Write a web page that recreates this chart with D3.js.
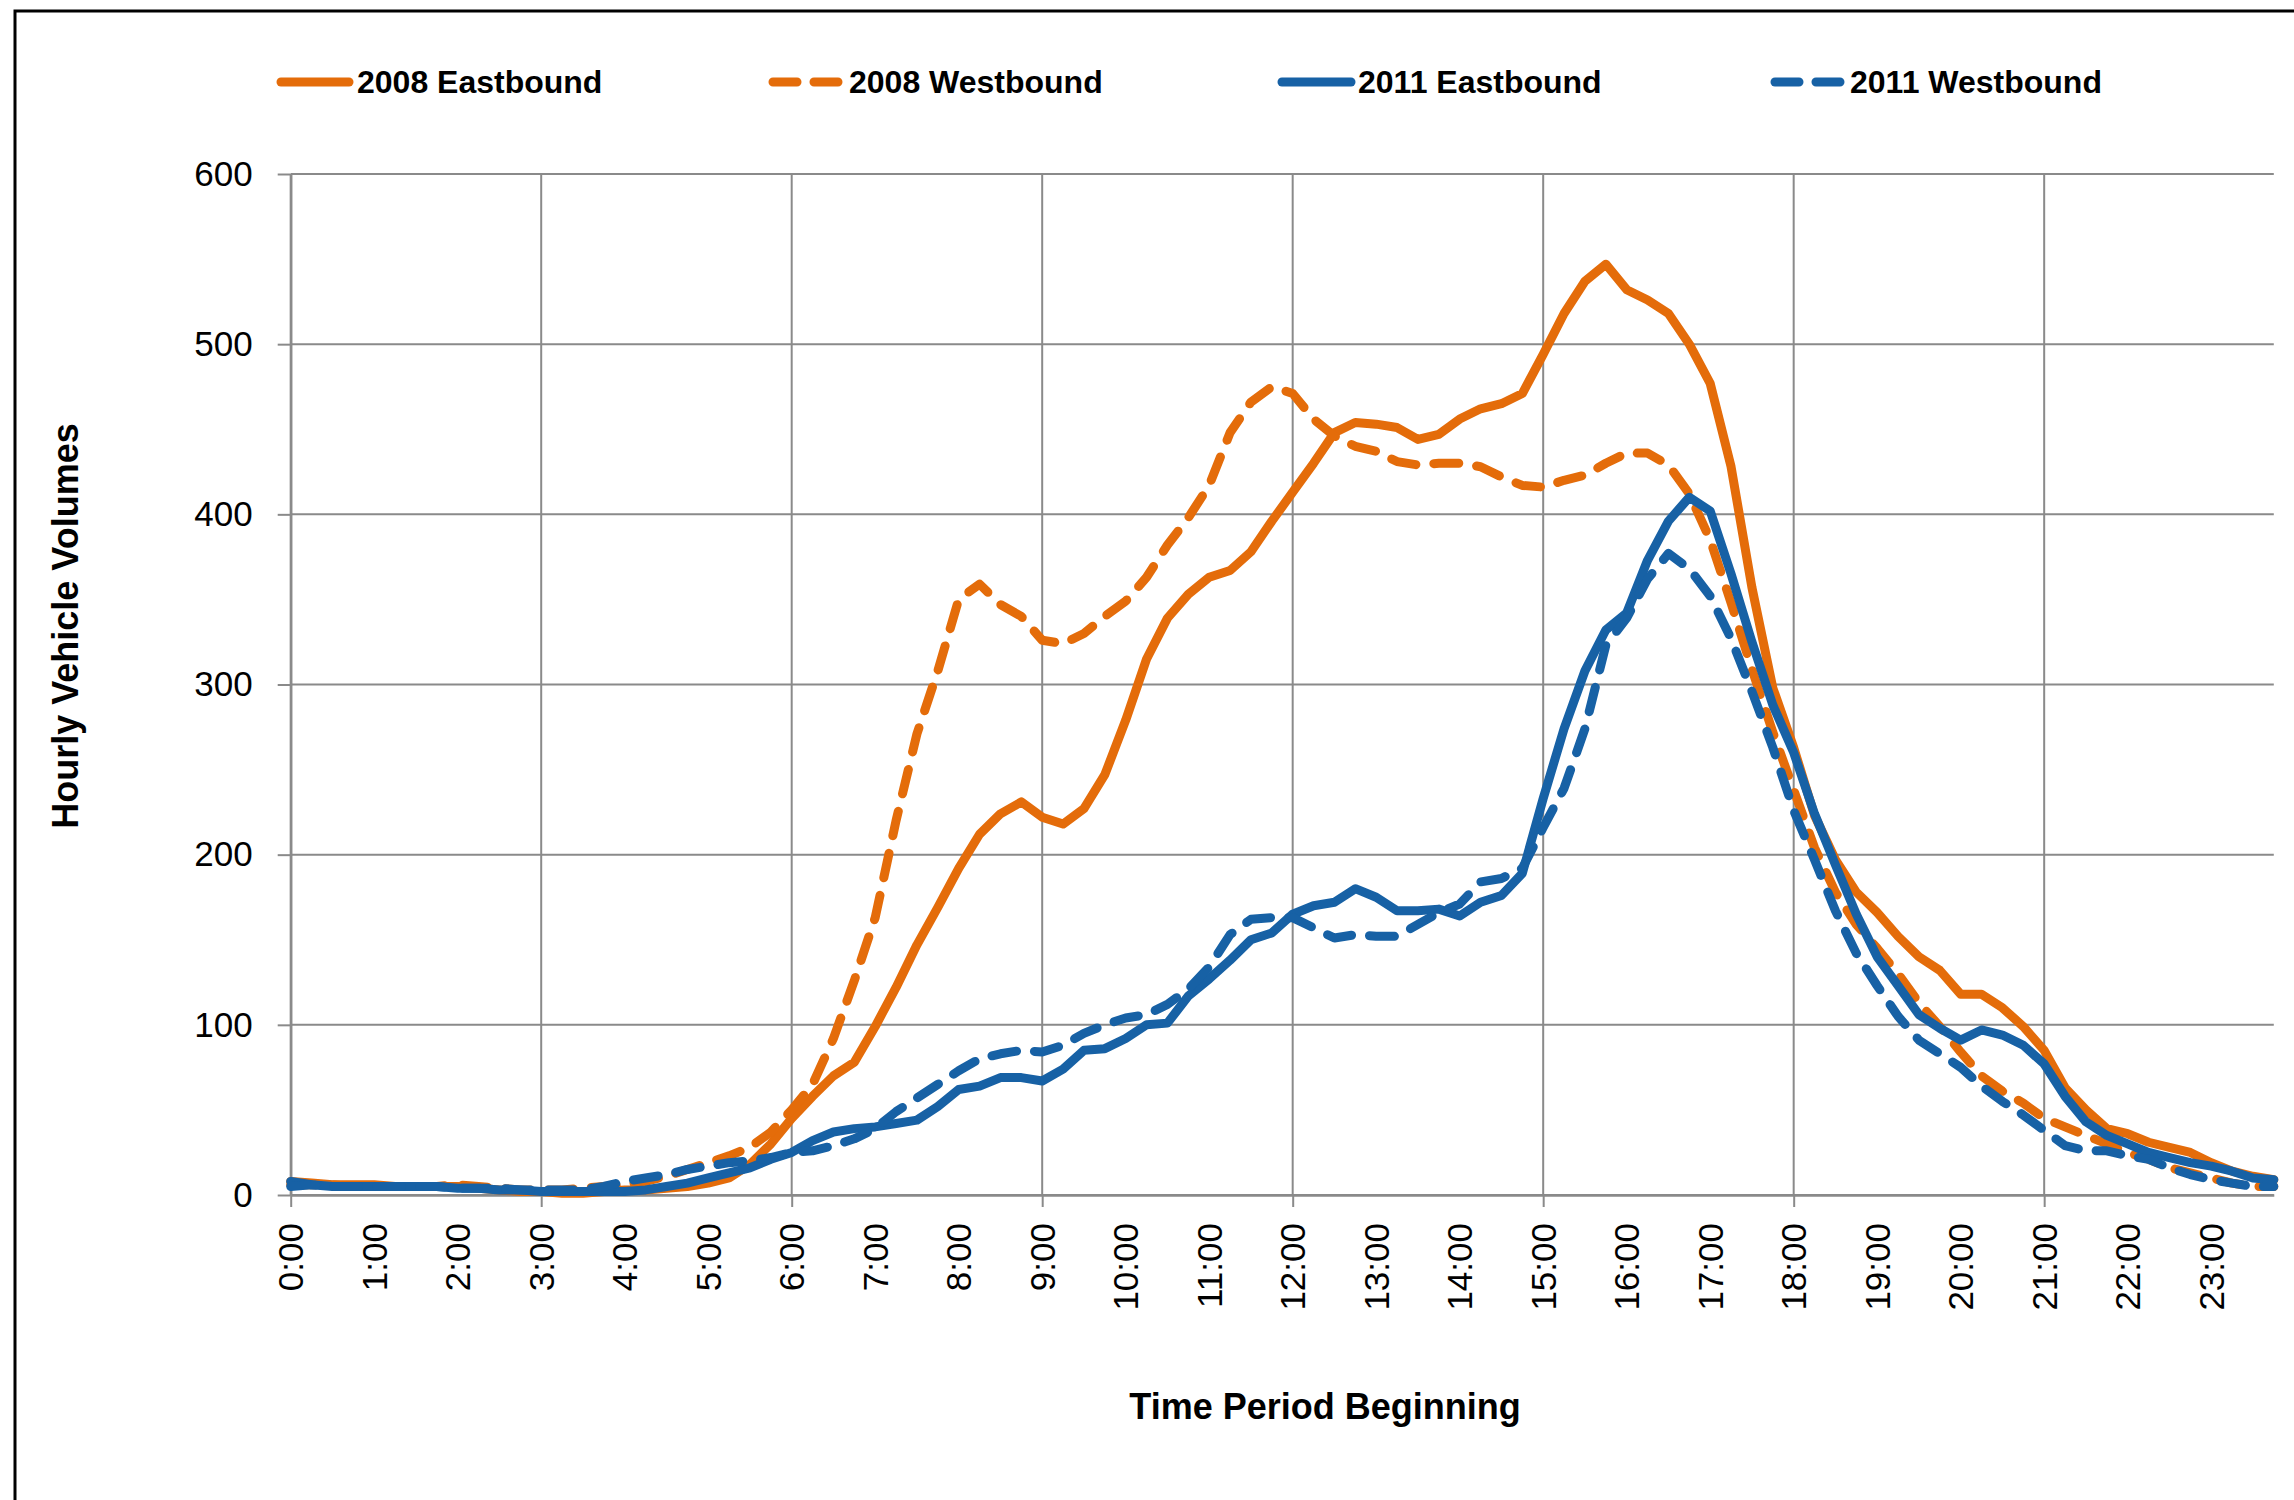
<!DOCTYPE html>
<html>
<head>
<meta charset="utf-8">
<script src="https://cdn.jsdelivr.net/npm/d3@7"></script>
<style>
  html, body { margin: 0; padding: 0; background: #fff; }
  svg { display: block; }
</style>
</head>
<body>
<svg id="chart" width="2294" height="1500"></svg>
<script>
// ---------------- DATA ----------------
const categories = [
  "0:00","0:15","0:30","0:45","1:00","1:15","1:30","1:45","2:00","2:15","2:30","2:45",
  "3:00","3:15","3:30","3:45","4:00","4:15","4:30","4:45","5:00","5:15","5:30","5:45",
  "6:00","6:15","6:30","6:45","7:00","7:15","7:30","7:45","8:00","8:15","8:30","8:45",
  "9:00","9:15","9:30","9:45","10:00","10:15","10:30","10:45","11:00","11:15","11:30","11:45",
  "12:00","12:15","12:30","12:45","13:00","13:15","13:30","13:45","14:00","14:15","14:30","14:45",
  "15:00","15:15","15:30","15:45","16:00","16:15","16:30","16:45","17:00","17:15","17:30","17:45",
  "18:00","18:15","18:30","18:45","19:00","19:15","19:30","19:45","20:00","20:15","20:30","20:45",
  "21:00","21:15","21:30","21:45","22:00","22:15","22:30","22:45","23:00","23:15","23:30","23:45"
];

const eb2008 = [
  8,7,6,6,6,5,5,5,5,4,3,2,
  2,1,1,2,3,3,4,5,7,10,18,30,
  45,58,70,78,99,122,147,169,192,212,224,231,
  222,218,227,247,279,315,339,353,363,367,378,396,
  413,430,448,454,453,451,444,447,456,462,465,471,
  494,518,537,547,532,526,518,500,477,428,357,298,
  263,223,197,178,166,152,140,132,118,118,110,99,
  85,63,50,39,36,31,28,25,19,14,11,9
];

const wb2008 = [
  6,6,6,5,5,5,5,5,6,5,4,3,
  3,3,4,5,6,8,11,15,19,23,28,37,
  50,65,92,126,163,220,271,308,350,359,347,340,
  326,324,330,340,349,363,382,398,417,448,466,475,
  471,456,446,440,437,431,429,430,430,428,422,417,
  416,420,423,430,436,436,429,412,385,348,309,272,
  238,204,178,159,145,130,113,99,84,70,61,54,
  45,40,35,30,25,21,16,13,10,7,5,5
];

const eb2011 = [
  8,6,5,5,5,5,5,5,4,4,3,3,
  2,2,2,2,2,3,5,7,10,13,16,21,
  25,32,37,39,40,42,44,52,62,64,69,69,
  67,74,85,86,92,100,101,117,127,138,150,154,
  165,170,172,180,175,167,167,168,164,172,176,189,
  233,274,308,332,342,373,396,410,402,365,325,288,
  260,224,194,165,140,123,106,98,91,97,94,88,
  77,58,43,35,30,25,22,19,17,14,10,9
];

const wb2011 = [
  5,6,5,5,5,5,5,5,4,4,4,3,
  3,3,3,5,8,10,12,15,17,19,20,22,
  25,26,29,33,39,49,57,65,73,80,83,85,
  84,88,95,100,104,106,112,121,134,153,162,163,
  163,157,151,153,152,152,159,166,171,184,186,192,
  216,239,274,323,339,362,377,368,352,327,296,263,
  226,197,167,142,123,105,91,83,75,64,55,47,
  38,29,26,26,23,21,16,12,9,7,5,5
];

const seriesNames = ["2008 Eastbound", "2008 Westbound", "2011 Eastbound", "2011 Westbound"];
const yTicks = [0, 100, 200, 300, 400, 500, 600];
const xLabelTicks = ["0:00","1:00","2:00","3:00","4:00","5:00","6:00","7:00","8:00","9:00","10:00","11:00",
  "12:00","13:00","14:00","15:00","16:00","17:00","18:00","19:00","20:00","21:00","22:00","23:00"];
const xGridTicks = ["0:00","3:00","6:00","9:00","12:00","15:00","18:00","21:00"];
const yTitle = "Hourly Vehicle Volumes";
const xTitle = "Time Period Beginning";

// ---------------- STYLE ----------------
const ORANGE = "#E46C0A";
const BLUE = "#1761A5";
const GRID = "#8a8a8a";
const DASH = "25,18";
const series = [
  { name: seriesNames[0], values: eb2008, color: ORANGE, dash: null },
  { name: seriesNames[1], values: wb2008, color: ORANGE, dash: DASH },
  { name: seriesNames[2], values: eb2011, color: BLUE, dash: null },
  { name: seriesNames[3], values: wb2011, color: BLUE, dash: DASH }
];

const svg = d3.select("#chart");
const FONT = "'Liberation Sans', Arial, sans-serif";

// frame
svg.append("rect").attr("x", 15).attr("y", 11).attr("width", 2400).attr("height", 1600)
  .attr("fill", "none").attr("stroke", "#000").attr("stroke-width", 3);

const pLeft = 290.7, pRight = 2273.8, pTop = 174, pBottom = 1195;

const x = d3.scalePoint().domain(categories).range([pLeft, pRight]).padding(0);
const y = d3.scaleLinear().domain([0, 600]).range([pBottom, pTop]);

// horizontal gridlines
svg.append("g").selectAll("line").data(yTicks).join("line")
  .attr("x1", pLeft).attr("x2", pRight)
  .attr("y1", d => y(d)).attr("y2", d => y(d))
  .attr("stroke", GRID).attr("stroke-width", 2);

// vertical gridlines
svg.append("g").selectAll("line").data(xGridTicks).join("line")
  .attr("x1", d => x(d)).attr("x2", d => x(d))
  .attr("y1", pTop).attr("y2", pBottom)
  .attr("stroke", GRID).attr("stroke-width", 2);

// y axis
const yAxis = svg.append("g").attr("transform", `translate(${pLeft},0)`)
  .call(d3.axisLeft(y).tickValues(yTicks).tickSize(13).tickSizeOuter(0).tickPadding(25));
yAxis.select(".domain").attr("stroke", GRID).attr("stroke-width", 2.5);
yAxis.selectAll(".tick line").attr("stroke", GRID).attr("stroke-width", 2);
yAxis.selectAll(".tick text").attr("font-family", FONT).attr("font-size", 35).attr("fill", "#000");

// x axis (ticks every 3h)
const xAxis = svg.append("g").attr("transform", `translate(0,${pBottom})`)
  .call(d3.axisBottom(x).tickValues(xGridTicks).tickSize(12).tickSizeOuter(0).tickFormat(""));
xAxis.select(".domain").attr("stroke", GRID).attr("stroke-width", 2.5);
xAxis.selectAll(".tick line").attr("stroke", GRID).attr("stroke-width", 2);

// x labels (hourly, rotated)
const xLab = svg.append("g").attr("transform", `translate(0,${pBottom})`)
  .call(d3.axisBottom(x).tickValues(xLabelTicks).tickSize(0).tickSizeOuter(0).tickPadding(0));
xLab.select(".domain").remove();
xLab.selectAll(".tick text")
  .attr("font-family", FONT).attr("font-size", 35).attr("fill", "#000")
  .attr("text-anchor", "end")
  .attr("transform", "translate(0,28) rotate(-90)")
  .attr("x", 0).attr("y", 0).attr("dy", "0.35em");

// lines
const line = d3.line().x((d, i) => x(categories[i])).y(d => y(d));
svg.append("g").selectAll("path").data(series).join("path")
  .attr("d", d => line(d.values))
  .attr("fill", "none")
  .attr("stroke", d => d.color)
  .attr("stroke-width", 9)
  .attr("stroke-linejoin", "round")
  .attr("stroke-linecap", "round")
  .attr("stroke-dasharray", d => d.dash);

// legend
const legendPos = [
  { lx1: 281, lx2: 349, tx: 357 },
  { lx1: 773, lx2: 838, tx: 849 },
  { lx1: 1282, lx2: 1351, tx: 1358 },
  { lx1: 1775, lx2: 1840, tx: 1850 }
];
const lg = svg.append("g");
series.forEach((s, i) => {
  const p = legendPos[i];
  lg.append("line").attr("x1", p.lx1).attr("x2", p.lx2).attr("y1", 82).attr("y2", 82)
    .attr("stroke", s.color).attr("stroke-width", 9).attr("stroke-linecap", "round")
    .attr("stroke-dasharray", s.dash ? "24,17" : null);
  lg.append("text").attr("x", p.tx).attr("y", 93).text(s.name)
    .attr("font-family", FONT).attr("font-size", 32).attr("font-weight", "bold").attr("fill", "#000");
});

// axis titles
svg.append("text").attr("transform", "translate(78,626) rotate(-90)")
  .attr("text-anchor", "middle").text(yTitle)
  .attr("font-family", FONT).attr("font-size", 36).attr("font-weight", "bold").attr("fill", "#000");
svg.append("text").attr("x", 1325).attr("y", 1419)
  .attr("text-anchor", "middle").text(xTitle)
  .attr("font-family", FONT).attr("font-size", 36).attr("font-weight", "bold").attr("fill", "#000");
</script>
</body>
</html>
